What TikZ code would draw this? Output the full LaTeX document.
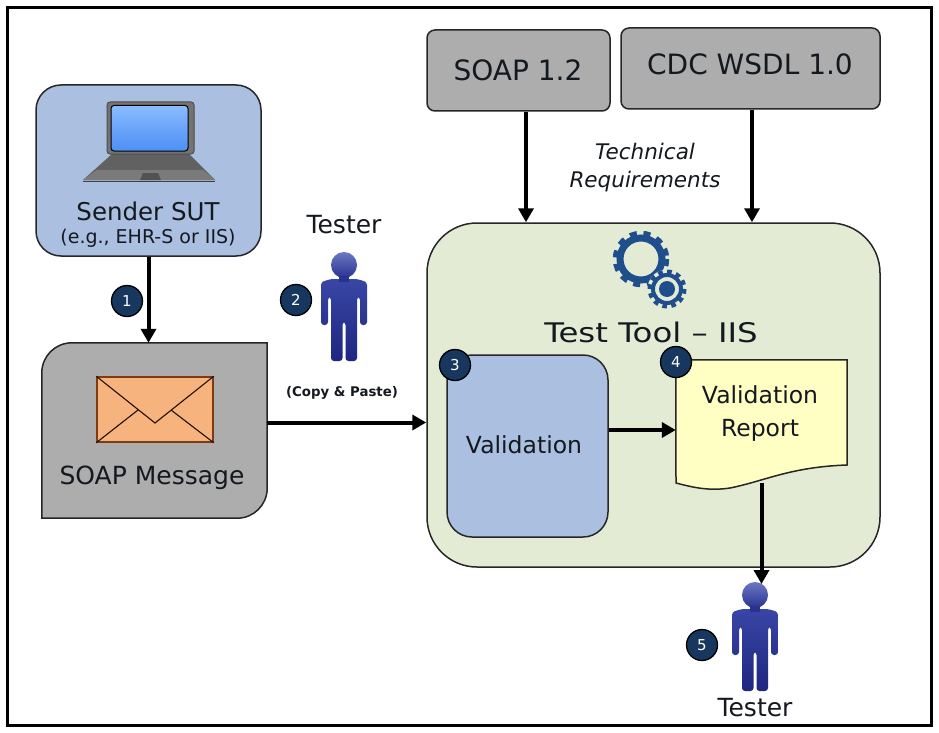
\documentclass[tikz,border=0pt]{standalone}
\usepackage{fontspec}
\setmainfont{DejaVu Sans}
\newfontfamily\widefont[FakeStretch=1.2]{DejaVu Sans}
\usetikzlibrary{arrows.meta,calc}
\definecolor{bluebox}{HTML}{ABC0E0}
\definecolor{greybox}{HTML}{ADADAD}
\definecolor{toolbg}{HTML}{E4EBD5}
\definecolor{reportbg}{HTML}{FFFFC4}
\definecolor{envfill}{HTML}{F6B37E}
\definecolor{envline}{HTML}{7F3A10}
\definecolor{badge}{HTML}{17375E}
\definecolor{gearc}{HTML}{1F4E8C}
\definecolor{inkc}{HTML}{14181F}
\definecolor{mantop}{HTML}{3A46A6}
\definecolor{manmid}{HTML}{283290}
\definecolor{manbot}{HTML}{1D2780}
\definecolor{manhead}{HTML}{6C78C4}
\definecolor{scrtop}{HTML}{8ABBFF}
\definecolor{scrbot}{HTML}{4C8FF5}
\newcommand{\fs}[1]{\fontsize{#1}{#1}\selectfont}
\tikzset{
  x=1pt,y=-1pt,
  boxn/.style={draw=black!85,line width=1.5pt,inner sep=0pt,text=inkc},
  label/.style={text=inkc,inner sep=0pt,align=center},
  conn/.style={line width=4pt,-{Triangle[length=14pt,width=15pt]}},
  badgen/.style={circle,draw=black,line width=1.3pt,fill=badge,text=white,minimum size=31pt,inner sep=0pt,font=\fs{15}},
  tester/.pic={
    \shade[top color=mantop,middle color=manmid,bottom color=manbot,rounded corners=3pt]
      (-23,17) -- (-13,14) -- (13,14) -- (23,17) -- (23,60) -- (16,60) -- (16,32) -- (13,32) -- (13,96) -- (1.5,96) -- (1.5,57) -- (-1.5,57) -- (-1.5,96) -- (-13,96) -- (-13,32) -- (-16,32) -- (-16,60) -- (-23,60) -- cycle;
    \shade[top color=manhead,bottom color=manmid] (0,0) circle (13);
    \fill[manmid] (-5,11) rectangle (5,17);
  }
}
\begin{document}
\begin{tikzpicture}
\useasboundingbox (0,0) rectangle (939,733);
\fill[white] (0,0) rectangle (939,733);
\draw[line width=3pt] (7,8) rectangle (931,725);

% Boxes
\node[boxn,fill=bluebox,rounded corners=25pt,minimum width=225pt,minimum height=171pt] (sender) at (148.5,170.5) {};
\node[boxn,fill=greybox,rounded corners=8pt,minimum width=183pt,minimum height=81pt] (soap) at (518.5,70.5) {};
\node[label,font=\fs{28}] (soapt) at (518,70) {SOAP 1.2};
\node[boxn,fill=greybox,rounded corners=8pt,minimum width=259pt,minimum height=81pt] (cdc) at (750.5,68.5) {};
\node[label,font=\fs{28}] (cdct) at (750,64) {CDC WSDL 1.0};
\node[boxn,fill=toolbg,rounded corners=50pt,minimum width=453pt,minimum height=344pt] (tool) at (653.5,395) {};
\node[boxn,fill=bluebox,rounded corners=25pt,minimum width=161pt,minimum height=182pt] (valid) at (527.5,446) {};
\node[label,font=\fs{23.5}] (validt) at (524,445) {Validation};

% SOAP message box
\node[inner sep=0pt,minimum width=225pt,minimum height=175pt] (msg) at (154.5,430.5) {};
\draw[boxn,fill=greybox] (msg.north east)
  [rounded corners=30pt] -- (msg.south east) [sharp corners] -- (msg.south west)
  [rounded corners=30pt] -- (msg.north west) [sharp corners] -- cycle;
\node[label,font=\fs{25}] (msgt) at (152,478) {SOAP Message};

% Envelope
\node[draw=envline,fill=envfill,line width=1.5pt,minimum width=116pt,minimum height=65pt,inner sep=0pt] (env) at (155,409.5) {};
\coordinate (apex) at (155,423);
\draw[draw=black!75!envline,line width=1.1pt] (env.north west) -- (apex) -- (env.north east);
\draw[draw=black!75!envline,line width=1.1pt] (env.south west) -- (138,410);
\draw[draw=black!75!envline,line width=1.1pt] (env.south east) -- (171,410);

% Laptop
\fill[black!62] (112,154) -- (189,154) -- (215,180) -- (83,180) -- cycle;
\fill[black!52] (97,170) -- (203,170) -- (215,180) -- (83,180) -- cycle;
\fill[black!68] (143,173) -- (158,173) -- (161,180) -- (140,180) -- cycle;
\draw[black!75,line width=1pt] (83,181) -- (215,181);
\draw[fill=black!55,draw=black!70,line width=1pt,rounded corners=3pt] (107,102) rectangle (194,154);
\shade[top color=scrtop,bottom color=scrbot,draw=black,line width=1pt,rounded corners=3pt] (111,105.5) rectangle (188,151);

\node[label,font=\fs{24.5}] (sendert) at (148,211) {Sender SUT};
\node[label,font=\fs{19}] (sendersub) at (148,238) {(e.g., EHR-S or IIS)};

% Report
\node[inner sep=0pt,minimum width=171pt,minimum height=129pt] (report) at (761.5,424.5) {};
\draw[boxn,fill=reportbg] (report.north west) -- (report.north east) -- (847,465)
  .. controls (790,467) and (765,481) .. (730,488) .. controls (710,491) and (695,488) .. (676,483) -- cycle;
\node[label,font=\fs{23.5}] (rept) at (760,414) {Validation\\[9.5pt]Report};

% Text
\node[label,font=\widefont\fs{27}] (toolt) at (651,332) {Test Tool – IIS};
\node[label,font=\itshape\fs{21.5}] (tech) at (645,168) {Technical\\[6.5pt]Requirements};
\node[label,font=\fs{25}] (t1) at (344,225) {Tester};
\node[label,font=\bfseries\fs{13.3}] (copy) at (342,393) {(Copy \& Paste)};
\node[label,font=\fs{25}] (t2) at (755,708) {Tester};

% Gears
\coordinate (g1) at (641,259);
\coordinate (g2) at (667,289);
\draw[gearc,line width=7pt] (g1) circle (21);
\draw[gearc,line width=5.5pt,dash pattern=on 7pt off 6.6pt] (g1) circle (25.5);
\draw[toolbg,fill=toolbg,line width=1pt] (g2) circle (19);
\draw[gearc,line width=4pt] (g2) circle (14);
\draw[gearc,line width=4pt,dash pattern=on 4.7pt off 4.46pt] (g2) circle (17.5);
\fill[gearc] (g2) circle (8);

% Testers
\pic at (344,265) {tester};
\pic at (755,595) {tester};
\coordinate (top5) at (761.5,584);

% Connectors
\draw[conn] (sender.south) -- (sender.south |- msg.north);
\draw[conn] ([yshift=8]msg.east) -- ([yshift=8]msg.east -| tool.west);
\draw[conn] ([xshift=7.5]soap.south) -- ([xshift=7.5]soap.south |- tool.north);
\draw[conn] ([xshift=1.5]cdc.south) -- ([xshift=1.5]cdc.south |- tool.north);
\draw[conn] ([yshift=-5.5]valid.east |- report.west) -- ($(report.west)+(0,5.5)$);
\draw[conn] ([yshift=6]report.south) -- (top5);

% Badges
\node[badgen] (b1) at (127,301) {1};
\node[badgen] (b2) at (296,300) {2};
\node[badgen] (b3) at (455,365) {3};
\node[badgen] (b4) at (676,362) {4};
\node[badgen] (b5) at (702,645) {5};
\end{tikzpicture}
\end{document}
